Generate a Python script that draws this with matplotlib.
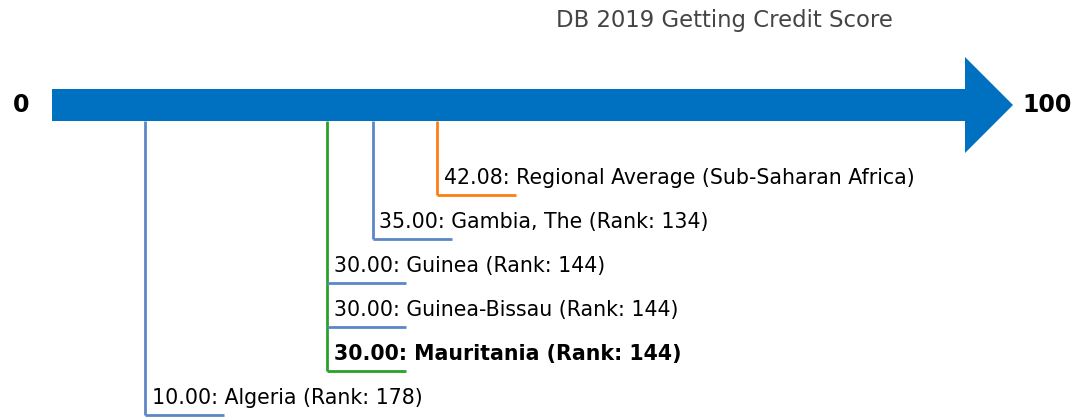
import matplotlib
matplotlib.use("Agg")
import matplotlib.pyplot as plt
from matplotlib.patches import Polygon

# Data
title = "DB 2019 Getting Credit Score"
names = ["Algeria", "Mauritania", "Guinea-Bissau", "Guinea", "Gambia, The",
         "Regional Average (Sub-Saharan Africa)"]
scores = [10.00, 30.00, 30.00, 30.00, 35.00, 42.08]
ranks = [178, 144, 144, 144, 134, None]
highlight = "Mauritania"
scale_min, scale_max = 0, 100

# Layout (pixel-like units)
W, H = 1071, 420
px_per_unit = 9.1
x0_px = 54
fig = plt.figure(figsize=(W / 100, H / 100), dpi=100)
ax = fig.add_axes([0, 0, 1, 1])
ax.set_xlim(-x0_px / px_per_unit, (W - x0_px) / px_per_unit)
ax.set_ylim(H, 0)
ax.axis("off")

arrow_col = "#0070c0"
body_top, body_bot, yc = 89, 121, 105
head_top, head_bot = 57, 153
body_start = scale_min - 2 / px_per_unit
head_base = scale_max + 1 / px_per_unit
head_tip = scale_max + 49 / px_per_unit
ax.add_patch(Polygon([(body_start, body_top), (head_base, body_top), (head_base, head_top),
                      (head_tip, yc), (head_base, head_bot), (head_base, body_bot),
                      (body_start, body_bot)], closed=True, facecolor=arrow_col,
                     edgecolor="none"))

ax.text(-33 / px_per_unit, yc, str(scale_min), ha="center", va="center",
        fontsize=17, fontweight="bold", color="black")
ax.text(head_tip + 9 / px_per_unit, yc, str(scale_max), ha="left", va="center",
        fontsize=17, fontweight="bold", color="black")
ax.text((724.5 - x0_px) / px_per_unit, 21, title, ha="center", va="center",
        fontsize=16.4, color="#444444")

blue = "#5b87c7"
green = "#2ca02c"
orange = "#ff7f0e"
bottom_y = 415
step = 44
hlen = 79 / px_per_unit

levels = list(range(len(names)))
ys = [bottom_y - step * k for k in levels]
drawn = set()
for name, s, r, y in zip(names, scores, ranks, ys):
    col = orange if r is None else blue
    if s not in drawn:
        vcol = col
        if any(n == highlight and sc == s for n, sc in zip(names, scores)):
            vcol = green
        ax.plot([s, s], [body_bot, y], color=vcol, lw=2, solid_capstyle="butt", zorder=2)
        drawn.add(s)
    hcol = green if name == highlight else col
    ax.plot([s, s + hlen], [y, y], color=hcol, lw=2, solid_capstyle="butt", zorder=3)
    label = f"{s:.2f}: {name}" + (f" (Rank: {r})" if r is not None else "")
    ax.text(s + 7 / px_per_unit, y - 17, label, ha="left", va="center", fontsize=14.8,
            fontweight="bold" if name == highlight else "normal", color="black")

fig.savefig("out.png", dpi=100)
